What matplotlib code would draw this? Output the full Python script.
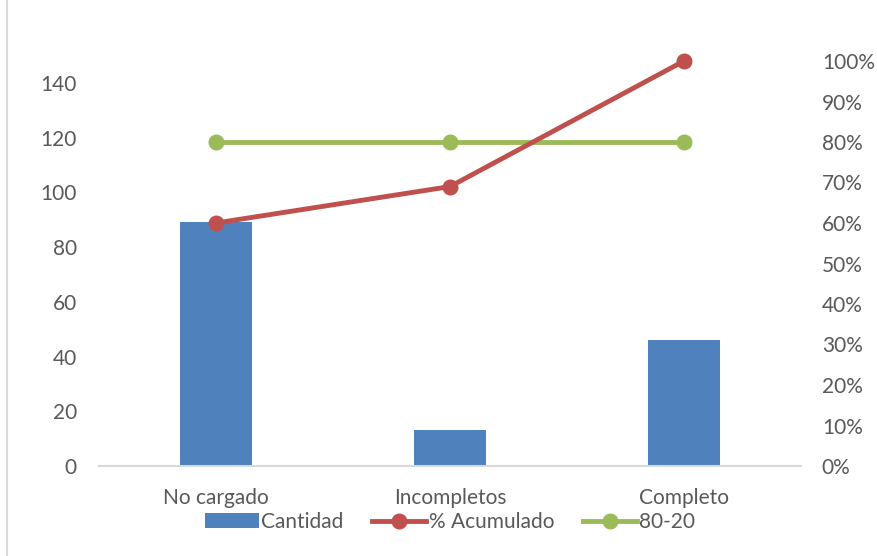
import matplotlib
matplotlib.use("Agg")
import matplotlib.pyplot as plt
from matplotlib.lines import Line2D
from matplotlib.ticker import FuncFormatter

plt.rcParams['font.family'] = ['Lato', 'DejaVu Sans']

categories = ["No cargado", "Incompletos", "Completo"]
cantidad = [89, 13, 46]
acumulado = [0.60, 0.69, 1.00]
linea_80_20 = [0.80, 0.80, 0.80]
left_ticks = [0, 20, 40, 60, 80, 100, 120, 140]
right_ticks = [0.0, 0.1, 0.2, 0.3, 0.4, 0.5, 0.6, 0.7, 0.8, 0.9, 1.0]

BLUE = "#4F81BD"
RED = "#C0504D"
GREEN = "#9BBB59"
TXT = "#595959"
AX = "#D9D9D9"
FS = 15

fig = plt.figure(figsize=(8.78, 5.56), dpi=100)
ax = fig.add_axes([99/878, 90/556, 702/878, 405/556])
x = list(range(len(categories)))
ax.bar(x, cantidad, width=0.31, color=BLUE, zorder=2, label="Cantidad")
ax.set_xlim(-0.5, 2.5)
ax.set_ylim(0, 148)
ax.set_yticks(left_ticks)
ax.set_xticks(x)
ax.set_xticklabels(categories)
for s in ["top", "left", "right"]:
    ax.spines[s].set_visible(False)
ax.spines["bottom"].set_color(AX)
ax.spines["bottom"].set_linewidth(1.5)
ax.tick_params(axis="y", length=0, pad=16, labelsize=FS, labelcolor=TXT)
ax.tick_params(axis="x", length=0, pad=16, labelsize=FS, labelcolor=TXT)

ax2 = ax.twinx()
ax2.plot(x, acumulado, color=RED, lw=3.5, marker="o", ms=10.5, zorder=4,
         clip_on=False, label="% Acumulado")
ax2.plot(x, linea_80_20, color=GREEN, lw=3.5, marker="o", ms=10.5, zorder=3,
         clip_on=False, label="80-20")
ax2.set_ylim(0, 1.0)
ax2.set_yticks(right_ticks)
ax2.yaxis.set_major_formatter(FuncFormatter(lambda v, p: f"{v*100:.0f}%"))
for s in ["top", "left", "right", "bottom"]:
    ax2.spines[s].set_visible(False)
ax2.tick_params(axis="y", length=0, pad=15, labelsize=FS, labelcolor=TXT)

h1, l1 = ax.get_legend_handles_labels()
h2, l2 = ax2.get_legend_handles_labels()
leg = fig.legend(h1 + h2, l1 + l2, loc="center", bbox_to_anchor=(450/878, 34/556),
                 ncol=3, frameon=False, fontsize=FS, handlelength=2.6,
                 handletextpad=0.1, columnspacing=1.4)
for t in leg.get_texts():
    t.set_color(TXT)

fig.add_artist(Line2D([7/878, 7/878], [0, 1], color=AX, lw=1.5, transform=fig.transFigure))

fig.savefig("out.png", dpi=100)
